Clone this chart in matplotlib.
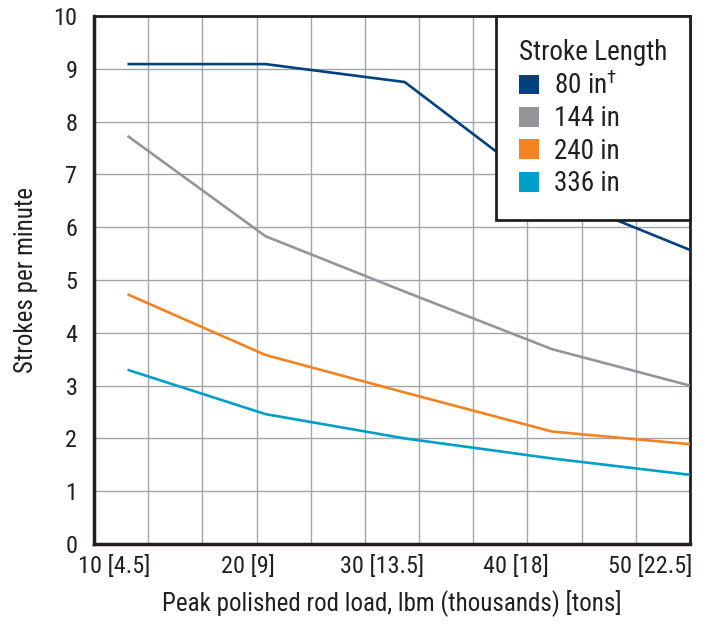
import matplotlib.pyplot as plt
import numpy as np
from matplotlib.patches import Patch
from matplotlib.ticker import FixedLocator

load_klbm = [11.0, 21.3, 31.7, 42.7, 53.0]
spm_80 = [9.09, 9.09, 8.75, 6.63, 5.57]
spm_144 = [7.73, 5.83, 4.78, 3.69, 3.00]
spm_240 = [4.73, 3.58, 2.87, 2.13, 1.89]
spm_336 = [3.30, 2.46, 2.00, 1.62, 1.31]

series_labels = [r'80 in$^{\dagger}$', '144 in', '240 in', '336 in']
colors = ['#00417e', '#939598', '#f58220', '#00a0c6']

xticks = [10, 20, 30, 40, 50]
xtick_labels = ['10 [4.5]', '20 [9]', '30 [13.5]', '40 [18]', '50 [22.5]']

plt.rcParams['font.family'] = ['Roboto Condensed', 'DejaVu Sans']
plt.rcParams['mathtext.fontset'] = 'custom'
plt.rcParams['mathtext.rm'] = 'Roboto Condensed'

fig = plt.figure(figsize=(7.2, 6.27), dpi=100)
ax = fig.add_axes([0.1306, 0.1324, 0.8277, 0.842])

for y, c in zip([spm_80, spm_144, spm_240, spm_336], colors):
    ax.plot(load_klbm, y, color=c, lw=1.9, solid_capstyle='butt', zorder=3)

ax.set_xlim(8.5, 53)
ax.set_ylim(0, 10)
ax.set_xticks(xticks)
ax.set_xticklabels(xtick_labels)
ax.set_yticks(range(0, 11))
ax.xaxis.set_minor_locator(FixedLocator(np.linspace(8.5, 53, 12)[1:-1]))
ax.tick_params(which='both', length=0, labelsize=17.5, colors='#231f20')
ax.tick_params(axis='x', pad=8)
ax.tick_params(axis='y', pad=12)
ax.grid(which='minor', axis='x', color='#a2a4a7', lw=1.0)
ax.grid(which='major', axis='y', color='#a2a4a7', lw=1.0)
ax.set_axisbelow(True)

for s in ax.spines.values():
    s.set_color('#231f20')
    s.set_linewidth(2.0)
ax.spines['left'].set_linewidth(2.5)
ax.spines['bottom'].set_linewidth(2.5)

ax.set_xlabel('Peak polished rod load, lbm (thousands) [tons]', fontsize=18,
              color='#231f20', labelpad=8)
ax.set_ylabel('Strokes per minute', fontsize=18, color='#231f20', labelpad=11)

handles = [Patch(facecolor=c, edgecolor='none') for c in colors]
leg = ax.legend(handles, series_labels, title='Stroke Length', loc='upper right',
                bbox_to_anchor=(1.0, 1.0), borderaxespad=0, fontsize=19.5,
                title_fontsize=19.5, fancybox=False, framealpha=1,
                edgecolor='#231f20', handlelength=0.75, handleheight=0.75,
                handletextpad=0.55, labelspacing=0.2, borderpad=0.85)
leg._legend_box.align = 'left'
leg.get_frame().set_linewidth(2.0)
for t in leg.get_texts():
    t.set_color('#231f20')
leg.get_title().set_color('#231f20')
leg.set_zorder(5)

fig.savefig('out.png', dpi=100)
